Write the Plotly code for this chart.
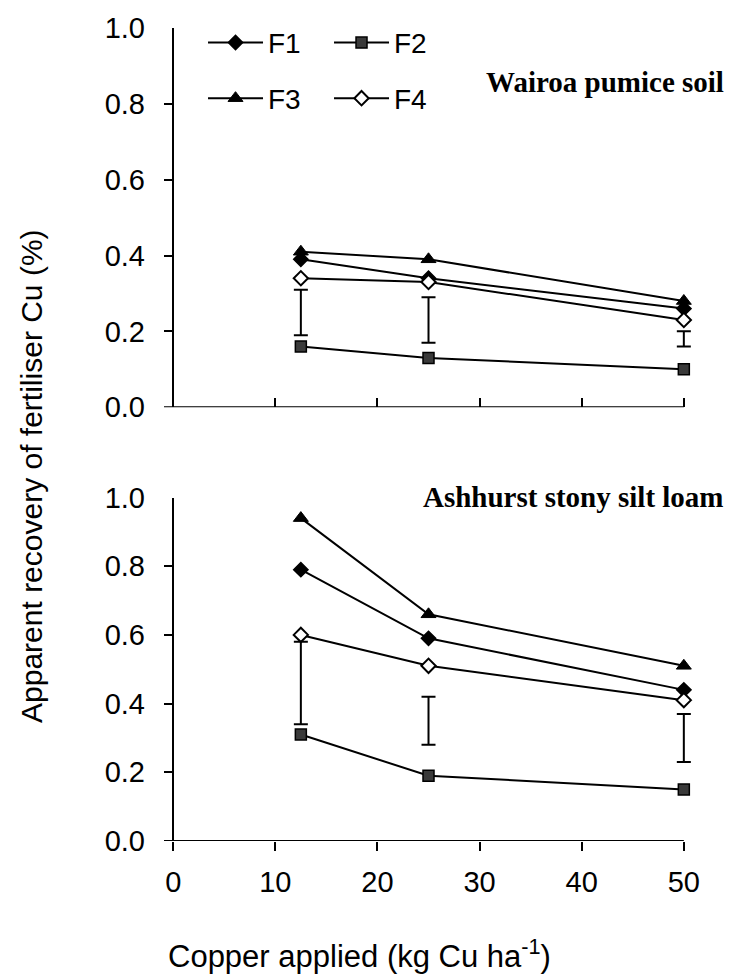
import plotly.graph_objects as go

# Copper application rates (kg Cu/ha)
rate = [12.5, 25, 50]

# Apparent recovery of fertiliser Cu (%) - Wairoa pumice soil
wairoa_f1 = [0.39, 0.34, 0.26]
wairoa_f2 = [0.16, 0.13, 0.10]
wairoa_f3 = [0.41, 0.39, 0.28]
wairoa_f4 = [0.34, 0.33, 0.23]
wairoa_lsd_low = [0.19, 0.17, 0.16]
wairoa_lsd_high = [0.31, 0.29, 0.20]

# Apparent recovery of fertiliser Cu (%) - Ashhurst stony silt loam
ashhurst_f1 = [0.79, 0.59, 0.44]
ashhurst_f2 = [0.31, 0.19, 0.15]
ashhurst_f3 = [0.94, 0.66, 0.51]
ashhurst_f4 = [0.60, 0.51, 0.41]
ashhurst_lsd_low = [0.34, 0.28, 0.23]
ashhurst_lsd_high = [0.58, 0.42, 0.37]

y_ticks = [0.0, 0.2, 0.4, 0.6, 0.8, 1.0]
x_ticks = [0, 10, 20, 30, 40, 50]

SANS = "Liberation Sans, Arial, sans-serif"
SERIF = "Liberation Serif, Times New Roman, serif"

# x range leaves a little room right of 50 so the end caps are not cut
X_RANGE = [-0.9, 50.8]
X_END = x_ticks[-1]
axis_frac = (X_END - X_RANGE[0]) / (X_RANGE[1] - X_RANGE[0])

styles = {
    "F1": dict(symbol="diamond", size=11, color="black", line=dict(color="black", width=1.5)),
    "F2": dict(symbol="square", size=11, color="#3a3a3a", line=dict(color="black", width=1.5)),
    "F3": dict(symbol="triangle-up", size=13, color="black", line=dict(color="black", width=1)),
    "F4": dict(symbol="diamond", size=11, color="white", line=dict(color="black", width=2)),
}
legend_of = {"F1": "legend", "F2": "legend", "F3": "legend2", "F4": "legend2"}

panels = [
    ("x2", "y2", True, {"F1": wairoa_f1, "F2": wairoa_f2, "F3": wairoa_f3, "F4": wairoa_f4},
     wairoa_lsd_low, wairoa_lsd_high),
    ("x", "y", False, {"F1": ashhurst_f1, "F2": ashhurst_f2, "F3": ashhurst_f3, "F4": ashhurst_f4},
     ashhurst_lsd_low, ashhurst_lsd_high),
]

fig = go.Figure()
for xa, ya, show, series, lo, hi in panels:
    for name in ["F1", "F2", "F3", "F4"]:
        fig.add_trace(go.Scatter(
            x=rate, y=series[name], name=name, mode="lines+markers",
            line=dict(color="black", width=2), marker=styles[name],
            xaxis=xa, yaxis=ya, showlegend=show, legend=legend_of[name],
            cliponaxis=False,
        ))
    # LSD bars floating between the series
    mid = [(a + b) / 2 for a, b in zip(lo, hi)]
    fig.add_trace(go.Scatter(
        x=rate, y=mid, mode="markers",
        marker=dict(size=1, color="rgba(0,0,0,0)"),
        error_y=dict(type="data", symmetric=False,
                     array=[b - m for b, m in zip(hi, mid)],
                     arrayminus=[m - a for a, m in zip(lo, mid)],
                     color="black", thickness=2, width=7),
        xaxis=xa, yaxis=ya, showlegend=False, hoverinfo="skip",
        cliponaxis=False,
    ))

x_common = dict(range=X_RANGE, showgrid=False, showline=False,
                zeroline=True, zerolinecolor="black", zerolinewidth=2,
                tickvals=x_ticks, ticklen=9, tickwidth=2, tickcolor="black",
                tickfont=dict(family=SANS, size=29, color="black"))
y_common = dict(range=[0, 1], showgrid=False, showline=False, zeroline=False,
                tickvals=y_ticks, tickformat=".1f", ticks="inside", ticklen=9,
                tickwidth=2, tickcolor="black", ticklabelstandoff=18,
                tickfont=dict(family=SANS, size=29, color="black"))

legend_common = dict(orientation="h", xanchor="left", yanchor="middle",
                     itemwidth=55, entrywidth=56, entrywidthmode="pixels",
                     font=dict(family=SANS, size=28, color="black"),
                     bgcolor="rgba(0,0,0,0)", itemclick=False, itemdoubleclick=False)

# horizontal axis lines, ending at the last tick
axis_lines = [
    dict(type="line", xref="x domain", yref="y", x0=0, x1=axis_frac, y0=0, y1=0,
         line=dict(color="black", width=2)),
    dict(type="line", xref="x2 domain", yref="y2", x0=0, x1=axis_frac, y0=0, y1=0,
         line=dict(color="black", width=2)),
]

fig.update_layout(
    width=732, height=974,
    margin=dict(l=164, r=40, t=22, b=133),
    paper_bgcolor="white", plot_bgcolor="white",
    xaxis=dict(**x_common, anchor="y", ticks="outside", ticklabelstandoff=6),
    yaxis=dict(**y_common, domain=[0, 0.4225], anchor="x"),
    xaxis2=dict(**x_common, anchor="y2", ticks="inside", showticklabels=False),
    yaxis2=dict(**y_common, domain=[0.5336, 1], anchor="x2"),
    legend=dict(**legend_common, x=0.0739, y=0.9817),
    legend2=dict(**legend_common, x=0.0739, y=0.9133),
    shapes=axis_lines,
    annotations=[
        dict(text="<b>Wairoa pumice soil</b>", xref="paper", yref="paper",
             x=1.0644, y=0.934, xanchor="right", yanchor="middle", showarrow=False,
             font=dict(family=SERIF, size=29, color="black")),
        dict(text="<b>Ashhurst stony silt loam</b>", xref="paper", yref="paper",
             x=1.0644, y=0.423, xanchor="right", yanchor="middle", showarrow=False,
             font=dict(family=SERIF, size=29, color="black")),
        dict(text="Apparent recovery of fertiliser Cu (%)", xref="paper", yref="paper",
             x=-0.25, y=0.449, xanchor="center", yanchor="middle", textangle=-90,
             showarrow=False, font=dict(family=SANS, size=30, color="black")),
        dict(text="Copper applied (kg Cu ha<sup>-1</sup>)", xref="paper", yref="paper",
             x=0.371, y=-0.139, xanchor="center", yanchor="middle", showarrow=False,
             font=dict(family=SANS, size=31, color="black")),
    ],
)

fig.write_html("out.html")
